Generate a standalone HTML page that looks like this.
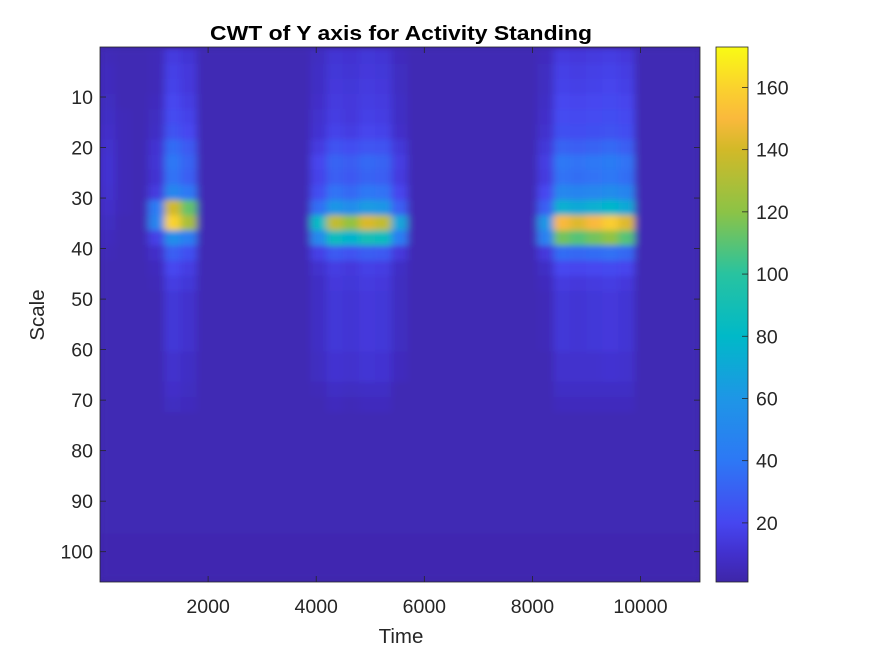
<!DOCTYPE html>
<html><head><meta charset="utf-8"><style>
body{margin:0;background:#fff;font-family:"Liberation Sans",sans-serif;}
svg text{font-family:"Liberation Sans",sans-serif;}
</style></head><body>
<svg id="chart" width="875" height="656" viewBox="0 0 875 656" xmlns="http://www.w3.org/2000/svg">
<defs>
<filter id="blur" x="0" y="0" width="1" height="1"><feGaussianBlur stdDeviation="4 3" edgeMode="duplicate"/></filter>
<clipPath id="plotclip"><rect x="100" y="47" width="600" height="535"/></clipPath>
<linearGradient id="cbgrad" x1="0" y1="1" x2="0" y2="0"></linearGradient>
</defs>
<rect x="100" y="47" width="600" height="535" fill="rgb(62,38,168)"/>
<g id="heat" clip-path="url(#plotclip)"><g id="cells" filter="url(#blur)"></g></g>
<g id="axes"></g>
<text x="401" y="40" text-anchor="middle" font-size="20.5" font-weight="bold" fill="#000" textLength="382" lengthAdjust="spacingAndGlyphs">CWT of Y axis for Activity Standing</text>
<text x="401" y="643" text-anchor="middle" font-size="20.5" fill="#262626">Time</text>
<text x="0" y="0" transform="translate(44,315) rotate(-90)" text-anchor="middle" font-size="20.5" fill="#262626">Scale</text>
<rect x="716" y="47" width="32" height="535" fill="url(#cbgrad)" stroke="#262626" stroke-width="0.8"/>
<g id="cbaxis"></g>
</svg>
<script>
// data
const timeStart = 0, timeStep = 300;
const scaleStart = 0.5, scaleStep = 3;
const xTicks = [2000,4000,6000,8000,10000];
const yTicks = [10,20,30,40,50,60,70,80,90,100];
const cbTicks = [20,40,60,80,100,120,140,160];
const cMin = 1, cMax = 173;
const bgRow = [4,4,4,4,4,4,4,4,4,4,4,4,4,4,4,4,4,4,4,4,4,4,4,4,4,4,4,4,4,4,4,4,4,4,4,4,4];
const lowRow = [3,3,3,3,3,3,3,3,3,3,3,3,3,3,3,3,3,3,3,3,3,3,3,3,3,3,3,3,3,3,3,3,3,3,3,3,3];
const values = [
[5,4,4, 5,15,12, 4,4,4,4,4,4,4, 7,12,11,13,12,6, 4,4,4,4,4,4,4,4, 6,15,14,15,16,14,4, 4,4,4],
[6,4,4, 5,17,14, 4,4,4,4,4,4,4, 8,13,12,14,13,7, 4,4,4,4,4,4,4,4, 7,17,16,17,18,16,4, 4,4,4],
[6,4,4, 5,18,14, 4,4,4,4,4,4,4, 8,14,13,15,14,7, 4,4,4,4,4,4,4,4, 7,18,17,18,19,17,4, 4,4,4],
[7,4,4, 6,20,16, 4,4,4,4,4,4,4, 9,15,14,16,15,8, 4,4,4,4,4,4,4,4, 8,20,19,20,21,19,4, 4,4,4],
[8,5,4, 7,22,18, 4,4,4,4,4,4,4, 10,16,14,17,16,8, 4,4,4,4,4,4,4,4, 9,22,21,22,23,21,4, 4,4,4],
[9,5,4, 8,25,20, 4,4,4,4,4,4,4, 11,18,16,19,18,9, 4,4,4,4,4,4,4,4, 10,24,23,24,25,23,4, 4,4,4],
[10,5,4, 11,35,28, 4,4,4,4,4,4,4, 15,25,23,26,25,13, 4,4,4,4,4,4,4,4, 13,32,30,32,34,30,4, 4,4,4],
[11,5,4, 12,40,32, 4,4,4,4,4,4,4, 19,32,29,34,32,16, 4,4,4,4,4,4,4,4, 16,40,38,40,42,38,4, 4,4,4],
[11,5,4, 11,38,30, 4,4,4,4,4,4,4, 18,30,27,32,30,15, 4,4,4,4,4,4,4,4, 15,38,36,38,40,36,4, 4,4,4],
[10,5,4, 15,50,40, 4,4,4,4,4,4,4, 23,38,34,40,38,19, 4,4,4,4,4,4,4,4, 20,50,48,50,53,48,4, 4,4,4],
[9,5,4, 42,140,112, 4,4,4,4,4,4,4, 36,60,54,63,60,30, 4,4,4,4,4,4,4,4, 30,75,71,75,79,71,4, 4,4,4],
[7,4,4, 48,160,128, 4,4,4,4,4,4,4, 81,135,122,142,135,68, 4,4,4,4,4,4,4,4, 60,150,143,150,158,143,4, 4,4,4],
[6,4,4, 17,55,44, 4,4,4,4,4,4,4, 51,85,77,89,85,43, 4,4,4,4,4,4,4,4, 46,115,109,115,121,109,4, 4,4,4],
[5,4,4, 9,30,24, 4,4,4,4,4,4,4, 17,28,25,29,28,14, 4,4,4,4,4,4,4,4, 14,35,33,35,37,33,4, 4,4,4],
[4,4,4, 6,20,16, 4,4,4,4,4,4,4, 10,16,14,17,16,8, 4,4,4,4,4,4,4,4, 8,20,19,20,21,19,4, 4,4,4],
[4,4,4, 5,16,13, 4,4,4,4,4,4,4, 8,14,13,15,14,7, 4,4,4,4,4,4,4,4, 6,15,14,15,16,14,4, 4,4,4],
[4,4,4, 4,13,10, 4,4,4,4,4,4,4, 8,13,12,14,13,7, 4,4,4,4,4,4,4,4, 5,13,12,13,14,12,4, 4,4,4],
[4,4,4, 4,13,10, 4,4,4,4,4,4,4, 8,13,12,14,13,7, 4,4,4,4,4,4,4,4, 5,13,12,13,14,12,4, 4,4,4],
[4,4,4, 4,13,10, 4,4,4,4,4,4,4, 8,13,12,14,13,7, 4,4,4,4,4,4,4,4, 5,13,12,13,14,12,4, 4,4,4],
[4,4,4, 4,13,10, 4,4,4,4,4,4,4, 8,13,12,14,13,7, 4,4,4,4,4,4,4,4, 5,13,12,13,14,12,4, 4,4,4],
[4,4,4, 4,10,8, 4,4,4,4,4,4,4, 7,11,10,12,11,6, 4,4,4,4,4,4,4,4, 4,10,10,10,11,10,4, 4,4,4],
[4,4,4, 4,10,8, 4,4,4,4,4,4,4, 7,11,10,12,11,6, 4,4,4,4,4,4,4,4, 4,10,10,10,11,10,4, 4,4,4],
[4,4,4, 4,9,7, 4,4,4,4,4,4,4, 5,8,7,8,8,4, 4,4,4,4,4,4,4,4, 4,8,8,8,8,8,4, 4,4,4],
[4,4,4, 4,7,6, 4,4,4,4,4,4,4, 4,6,5,6,6,4, 4,4,4,4,4,4,4,4, 4,6,6,6,6,6,4, 4,4,4],
bgRow, bgRow, bgRow, bgRow, bgRow, bgRow, bgRow, bgRow, lowRow, lowRow, lowRow
];

const NS = "http://www.w3.org/2000/svg";
const X0 = 100, X1 = 700, Y0 = 47, Y1 = 582;
const tMin = 0, tMax = 11100, sMin = 0.1, sMax = 106;
function xScale(t){ return X0 + (t - tMin) / (tMax - tMin) * (X1 - X0); }
function yScale(s){ return Y0 + (s - sMin) / (sMax - sMin) * (Y1 - Y0); }
function cbScale(v){ return Y1 - (v - cMin) / (cMax - cMin) * (Y1 - Y0); }
const cmapV = [1,10,20,40,60,80,100,120,140,150,160,173];
const cmapC = [[62,38,168],[66,48,205],[70,70,240],[45,120,245],[30,150,230],[0,185,200],[40,195,160],[140,195,70],[210,185,40],[250,185,60],[250,210,45],[249,251,20]];
function color(v){
  v = Math.max(cmapV[0], Math.min(cmapV[cmapV.length-1], v));
  let i = 0; while (i < cmapV.length-2 && v > cmapV[i+1]) i++;
  const r = (v - cmapV[i]) / (cmapV[i+1] - cmapV[i]);
  const a = cmapC[i], b = cmapC[i+1];
  return "rgb(" + a.map((c,k)=>Math.round(c + (b[k]-c)*r)).join(",") + ")";
}
const grad = document.getElementById("cbgrad");
cmapV.forEach((v, i) => {
  const s = document.createElementNS(NS, "stop");
  s.setAttribute("offset", (v - cMin) / (cMax - cMin));
  s.setAttribute("stop-color", color(v));
  grad.appendChild(s);
});
const cells = document.getElementById("cells");
values.forEach((row, ri) => {
  row.forEach((v, ci) => {
    const r = document.createElementNS(NS, "rect");
    const t0 = timeStart + ci * timeStep, s0 = scaleStart + ri * scaleStep;
    const x = xScale(t0), y = yScale(s0);
    r.setAttribute("x", x - 0.5);
    r.setAttribute("y", y - 0.5);
    r.setAttribute("width", xScale(t0 + timeStep) - x + 1);
    r.setAttribute("height", yScale(s0 + scaleStep) - y + 1);
    r.setAttribute("fill", color(v));
    
    
    cells.appendChild(r);
  });
});
const axes = document.getElementById("axes");
function el(tag, attrs, parent){ const e = document.createElementNS(NS, tag); for (const k in attrs) e.setAttribute(k, attrs[k]); parent.appendChild(e); return e; }
const box = el("rect", {x:X0, y:Y0, width:X1-X0, height:Y1-Y0, fill:"none", stroke:"#262626", "stroke-width":0.8}, axes);


xTicks.forEach(t => {
  const x = xScale(t);
  el("line", {x1:x, y1:Y1, x2:x, y2:Y1-6, stroke:"#262626", "stroke-width":0.8}, axes);
  el("line", {x1:x, y1:Y0, x2:x, y2:Y0+6, stroke:"#262626", "stroke-width":0.8}, axes);
  const tx = el("text", {x:x, y:Y1+31, "text-anchor":"middle", "font-size":19.5, fill:"#262626"}, axes);
  tx.textContent = t;
  
  
});
yTicks.forEach(s => {
  const y = yScale(s);
  el("line", {x1:X0, y1:y, x2:X0+6, y2:y, stroke:"#262626", "stroke-width":0.8}, axes);
  el("line", {x1:X1, y1:y, x2:X1-6, y2:y, stroke:"#262626", "stroke-width":0.8}, axes);
  const tx = el("text", {x:X0-7, y:y+7, "text-anchor":"end", "font-size":19.5, fill:"#262626"}, axes);
  tx.textContent = s;
  
  
});
const cb = document.getElementById("cbaxis");
cbTicks.forEach(v => {
  const y = cbScale(v);
  el("line", {x1:742, y1:y, x2:748, y2:y, stroke:"#262626", "stroke-width":0.8}, cb);
  const tx = el("text", {x:756, y:y+7, "font-size":19.5, fill:"#262626"}, cb);
  tx.textContent = v;
  
  
});
</script>
</body></html>
